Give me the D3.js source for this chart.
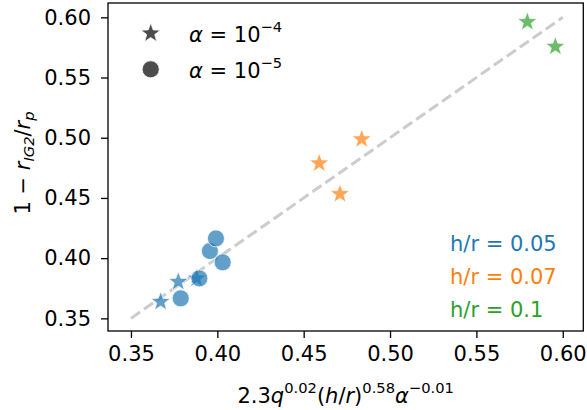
<!DOCTYPE html>
<html>
<head>
<meta charset="utf-8">
<script src="https://cdn.jsdelivr.net/npm/d3@7"></script>
<style>
  html, body { margin: 0; padding: 0; background: #fff; }
  svg { display: block; font-family: "DejaVu Sans", sans-serif; }
</style>
</head>
<body>
<svg id="chart" width="587" height="410"></svg>
<script>
// ---- data ----
const xTicks = [0.35, 0.40, 0.45, 0.50, 0.55, 0.60];
const yTicks = [0.35, 0.40, 0.45, 0.50, 0.55, 0.60];
const fitLineX = [0.35, 0.60];
const fitLineY = [0.35, 0.60];

// h/r = 0.05
const hr005StarX = [0.3672, 0.3774, 0.3880];
const hr005StarY = [0.3638, 0.3804, 0.3832];
const hr005CircX = [0.3788, 0.3896, 0.3957, 0.3992, 0.4031];
const hr005CircY = [0.3666, 0.3832, 0.4059, 0.4164, 0.3965];
// h/r = 0.07
const hr007StarX = [0.4590, 0.4710, 0.4836];
const hr007StarY = [0.4788, 0.4533, 0.4988];
// h/r = 0.1
const hr01StarX = [0.5795, 0.5957];
const hr01StarY = [0.5962, 0.5757];

const groupLabels = ["h/r = 0.05", "h/r = 0.07", "h/r = 0.1"];
const groupColors = ["#1f77b4", "#ff7f0e", "#2ca02c"];

// ---- layout ----
const svg = d3.select("#chart");
const L = 108, R = 583.3, T = 3, B = 331;
const x = d3.scaleLinear().domain([0.3367, 0.6119]).range([L, R]);
const y = d3.scaleLinear().domain([0.3395, 0.6119]).range([B, T]);

// dashed fit line
svg.append("path")
  .attr("d", d3.line().x(d => x(d[0])).y(d => y(d[1]))(d3.zip(fitLineX, fitLineY)))
  .attr("fill", "none").attr("stroke", "#cccccc").attr("stroke-width", 3)
  .attr("stroke-dasharray", "11,4.8");

function starD(Ro) {
  const ri = Ro * 0.41;
  const pts = d3.range(10).map(i => {
    const a = i * Math.PI / 5;
    const rr = i % 2 === 0 ? Ro : ri;
    return [rr * Math.sin(a), -rr * Math.cos(a)];
  });
  return "M" + pts.map(p => p.join(",")).join("L") + "Z";
}
const starPath = starD(10.2);
const R_CIRC = 8.5;

function drawCircles(xs, ys, color) {
  svg.append("g").selectAll("circle").data(d3.zip(xs, ys)).join("circle")
    .attr("cx", d => x(d[0])).attr("cy", d => y(d[1])).attr("r", R_CIRC)
    .attr("fill", color).attr("fill-opacity", 0.7)
    .attr("stroke", "#ffffff").attr("stroke-opacity", 0.7).attr("stroke-width", 1);
}
function drawStars(xs, ys, color) {
  svg.append("g").selectAll("path").data(d3.zip(xs, ys)).join("path")
    .attr("d", starPath)
    .attr("transform", d => `translate(${x(d[0])},${y(d[1])})`)
    .attr("fill", color).attr("fill-opacity", 0.7)
    .attr("stroke", "#ffffff").attr("stroke-opacity", 0.7).attr("stroke-width", 1);
}
drawStars(hr005StarX, hr005StarY, groupColors[0]);
drawCircles(hr005CircX, hr005CircY, groupColors[0]);
drawStars(hr007StarX, hr007StarY, groupColors[1]);
drawStars(hr01StarX, hr01StarY, groupColors[2]);

// axes
const fs = 21;
const xAxis = svg.append("g").attr("transform", `translate(0,${B})`)
  .call(d3.axisBottom(x).tickValues(xTicks).tickFormat(d3.format(".2f")).tickSizeOuter(0).tickSize(7).tickPadding(5));
const yAxis = svg.append("g").attr("transform", `translate(${L},0)`)
  .call(d3.axisLeft(y).tickValues(yTicks).tickFormat(d3.format(".2f")).tickSizeOuter(0).tickSize(7).tickPadding(10));
[xAxis, yAxis].forEach(a => {
  a.select(".domain").remove();
  a.selectAll(".tick line").attr("stroke", "#000").attr("stroke-width", 1.3);
  a.selectAll(".tick text").attr("fill", "#000").attr("font-size", fs)
    .attr("font-family", "DejaVu Sans");
});
xAxis.selectAll(".tick text").attr("dy", "0.85em");

// frame
svg.append("rect").attr("x", L).attr("y", T).attr("width", R - L).attr("height", B - T)
  .attr("fill", "none").attr("stroke", "#000").attr("stroke-width", 1.3);

// legend
const legG = svg.append("g");
legG.append("path").attr("d", starPath).attr("transform", "translate(150.7,33.3)")
  .attr("fill", "#000").attr("fill-opacity", 0.7)
  .attr("stroke", "#fff").attr("stroke-opacity", 0.7).attr("stroke-width", 1);
legG.append("circle").attr("cx", 150.7).attr("cy", 69.3).attr("r", R_CIRC)
  .attr("fill", "#000").attr("fill-opacity", 0.7)
  .attr("stroke", "#fff").attr("stroke-opacity", 0.7).attr("stroke-width", 1);
const legendExp = ["−4", "−5"];
const sup = fs * 0.7;
legendExp.forEach((e, i) => {
  const t = legG.append("text").attr("x", 189).attr("y", 42 + i * 35.5)
    .attr("font-size", fs).attr("fill", "#000");
  t.append("tspan").attr("font-style", "italic").text("α");
  t.append("tspan").text(" = 10");
  t.append("tspan").attr("font-size", sup).attr("dy", -10).text(e);
});

// group labels
groupLabels.forEach((s, i) => {
  svg.append("text").attr("x", 450).attr("y", 250.5 + i * 33)
    .attr("font-size", fs).attr("fill", groupColors[i]).text(s);
});

// x label
const xl = svg.append("text").attr("x", (L + R) / 2).attr("y", 402.5)
  .attr("text-anchor", "middle").attr("font-size", fs).attr("fill", "#000");
xl.append("tspan").text("2.3");
xl.append("tspan").attr("font-style", "italic").text("q");
xl.append("tspan").attr("font-size", sup).attr("dy", -10).text("0.02");
xl.append("tspan").attr("dy", 10).text("(");
xl.append("tspan").attr("font-style", "italic").text("h");
xl.append("tspan").text("/");
xl.append("tspan").attr("font-style", "italic").text("r");
xl.append("tspan").text(")");
xl.append("tspan").attr("font-size", sup).attr("dy", -10).text("0.58");
xl.append("tspan").attr("dy", 10).attr("font-style", "italic").text("α");
xl.append("tspan").attr("font-size", sup).attr("dy", -10).text("−0.01");

// y label
const yl = svg.append("text").attr("transform", `translate(30,163) rotate(-90)`)
  .attr("text-anchor", "middle").attr("font-size", fs).attr("fill", "#000");
yl.append("tspan").text("1 − ");
yl.append("tspan").attr("font-style", "italic").text("r");
yl.append("tspan").attr("font-style", "italic").attr("font-size", sup).attr("dy", 4).text("IG2");
yl.append("tspan").attr("dy", -4).text("/");
yl.append("tspan").attr("font-style", "italic").text("r");
yl.append("tspan").attr("font-style", "italic").attr("font-size", sup).attr("dy", 4).text("p");
</script>
</body>
</html>
